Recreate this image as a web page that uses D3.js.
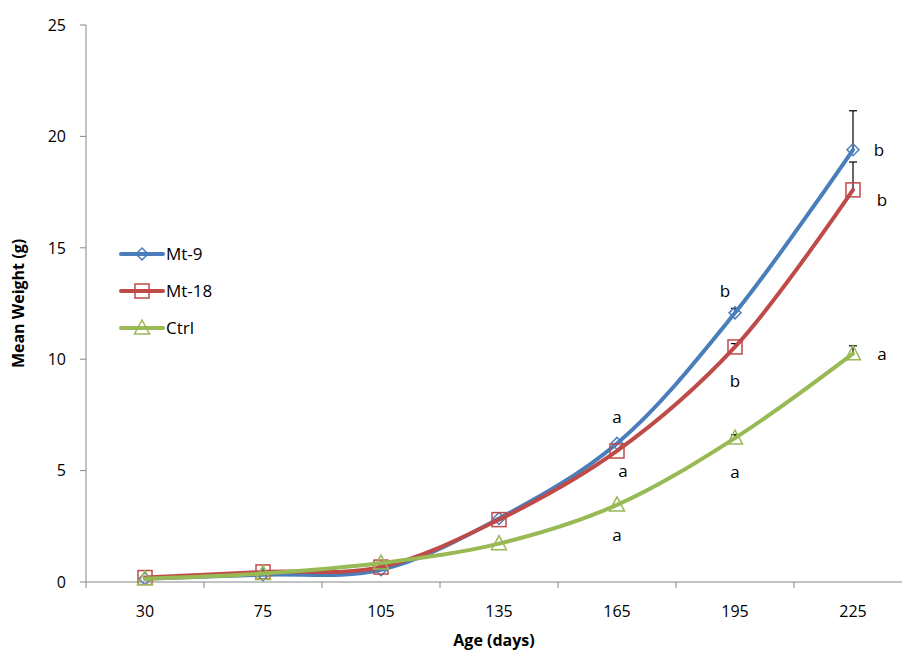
<!DOCTYPE html>
<html>
<head>
<meta charset="utf-8">
<script src="https://cdn.jsdelivr.net/npm/d3@7"></script>
<style>
  body { margin: 0; background: #fff; }
  text { font-family: "Open Sans", "Noto Sans", sans-serif; }
</style>
</head>
<body>
<svg></svg>
<script>
// data
var ages = ["30", "75", "105", "135", "165", "195", "225"];
var seriesNames = ["Mt-9", "Mt-18", "Ctrl"];
var mt9 = [0.15, 0.33, 0.55, 2.85, 6.22, 12.08, 19.4];
var mt18 = [0.2, 0.45, 0.67, 2.8, 5.88, 10.55, 17.6];
var ctrl = [0.15, 0.38, 0.85, 1.72, 3.46, 6.46, 10.25];
var mt9Err = [0, 0, 0, 0, 0, 0.2, 1.75];
var mt18Err = [0, 0, 0, 0, 0, 0.15, 1.25];
var ctrlErr = [0, 0, 0, 0, 0, 0.15, 0.35];
var yTicks = [0, 5, 10, 15, 20, 25];
// significance letters (165, 195, 225 days)
var letterAges = ["165", "195", "225"];
var mt9Letters = ["a", "b", "b"];
var mt18Letters = ["a", "b", "b"];
var ctrlLetters = ["a", "a", "a"];

var width = 902, height = 652;
var mLeft = 86, mRight = 912, mTop = 25, mBottom = 582;

var svg = d3.select('svg').attr('width', width).attr('height', height);

var x = d3.scaleBand().domain(ages).range([mLeft, mRight]);
var y = d3.scaleLinear().domain([0, 25]).range([mBottom, mTop]);
var cx = function (a) { return x(a) + x.bandwidth() / 2; };

var colors = ["#4a7ebb", "#be4b48", "#98b954"];
var values = [mt9, mt18, ctrl];
var errs = [mt9Err, mt18Err, ctrlErr];
var letters = [mt9Letters, mt18Letters, ctrlLetters];
var markers = ["diamond", "square", "triangle"];

// axes
var gx = svg.append('g').attr('transform', 'translate(0,' + mBottom + ')');
gx.append('line').attr('x1', mLeft).attr('x2', mRight).attr('stroke', '#868686');
gx.selectAll('line.tick').data(d3.range(ages.length + 1)).enter().append('line')
  .attr('class', 'tick')
  .attr('x1', function (i) { return mLeft + i * x.step(); })
  .attr('x2', function (i) { return mLeft + i * x.step(); })
  .attr('y1', 0).attr('y2', 6).attr('stroke', '#868686');
gx.selectAll('text').data(ages).enter().append('text')
  .attr('x', cx).attr('y', 35).attr('text-anchor', 'middle')
  .style('font-size', '16px').attr('fill', '#000').text(function (d) { return d; });

var gy = svg.append('g').attr('transform', 'translate(' + mLeft + ',0)');
gy.append('line').attr('y1', mTop).attr('y2', mBottom).attr('stroke', '#868686');
gy.selectAll('line.tick').data(yTicks).enter().append('line')
  .attr('class', 'tick')
  .attr('x1', -6).attr('x2', 0)
  .attr('y1', function (d) { return y(d); }).attr('y2', function (d) { return y(d); })
  .attr('stroke', '#868686');
gy.selectAll('text').data(yTicks).enter().append('text')
  .attr('x', -20).attr('y', function (d) { return y(d); }).attr('dy', '0.36em')
  .attr('text-anchor', 'end').style('font-size', '16px').text(function (d) { return d; });

svg.append('text').attr('x', 494).attr('y', 646).attr('text-anchor', 'middle')
  .style('font-size', '16px').style('font-weight', 'bold').text('Age (days)');
svg.append('text').attr('transform', 'translate(24,' + ((mTop + mBottom) / 2) + ') rotate(-90)')
  .attr('text-anchor', 'middle').style('font-size', '16px').style('font-weight', 'bold')
  .text('Mean Weight (g)');

function marker(g, type, color) {
  if (type === 'diamond') {
    g.append('path').attr('d', 'M0,-6L6,0L0,6L-6,0Z');
  } else if (type === 'square') {
    g.append('rect').attr('x', -7).attr('y', -7).attr('width', 14).attr('height', 14);
  } else {
    g.append('path').attr('d', 'M0,-8L7.5,6L-7.5,6Z');
  }
  g.selectAll('*').attr('fill', 'none').attr('stroke', color).attr('stroke-width', 1.5);
}

var line = d3.line()
  .x(function (d, i) { return cx(ages[i]); })
  .y(function (d) { return y(d); })
  .curve(d3.curveCatmullRom.alpha(0.5));

// error bars
values.forEach(function (vals, s) {
  var eg = svg.append('g');
  vals.forEach(function (v, i) {
    if (!errs[s][i]) return;
    var xx = cx(ages[i]);
    eg.append('line').attr('x1', xx).attr('x2', xx)
      .attr('y1', y(v)).attr('y2', y(v + errs[s][i])).attr('stroke', '#000').attr('stroke-width', 1.2);
    eg.append('line').attr('x1', xx - 4).attr('x2', xx + 4)
      .attr('y1', y(v + errs[s][i])).attr('y2', y(v + errs[s][i])).attr('stroke', '#000').attr('stroke-width', 1.2);
  });
});

// series lines and markers
[0, 1, 2].forEach(function (s) {
  svg.append('path').datum(values[s]).attr('d', line)
    .attr('fill', 'none').attr('stroke', colors[s]).attr('stroke-width', 4)
    .attr('stroke-linejoin', 'round').attr('stroke-linecap', 'round');
  values[s].forEach(function (v, i) {
    var g = svg.append('g').attr('transform', 'translate(' + cx(ages[i]) + ',' + y(v) + ')');
    marker(g, markers[s], colors[s]);
  });
});

// letters: offsets per series and age
var letterOffsets = [
  [[0, -26], [-10, -22], [26, 0]],
  [[6, 20], [0, 34], [29, 10]],
  [[0, 30], [0, 34], [29, 0]]
];
letters.forEach(function (ls, s) {
  ls.forEach(function (l, j) {
    var a = letterAges[j];
    var v = values[s][ages.indexOf(a)];
    svg.append('text')
      .attr('x', cx(a) + letterOffsets[s][j][0])
      .attr('y', y(v) + letterOffsets[s][j][1])
      .attr('dy', '0.35em').attr('text-anchor', 'middle')
      .style('font-size', '17px').text(l);
  });
});

// legend
var leg = svg.append('g').attr('transform', 'translate(121,254)');
seriesNames.forEach(function (n, s) {
  var row = leg.append('g').attr('transform', 'translate(0,' + (s * 37) + ')');
  row.append('line').attr('x1', 0).attr('x2', 42).attr('stroke', colors[s]).attr('stroke-width', 4)
    .attr('stroke-linecap', 'round');
  marker(row.append('g').attr('transform', 'translate(21,0)'), markers[s], colors[s]);
  row.append('text').attr('x', 45).attr('dy', '0.36em').style('font-size', '17px').text(n);
});
</script>
</body>
</html>
